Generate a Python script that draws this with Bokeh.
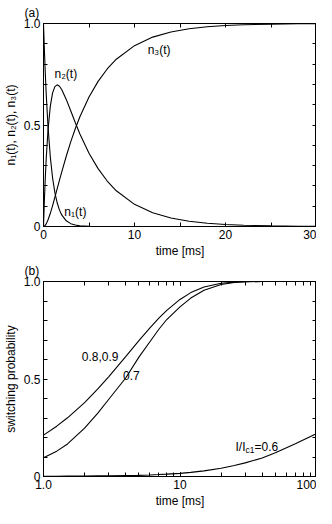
from bokeh.plotting import figure
from bokeh.layouts import column
from bokeh.models import (Range1d, FixedTicker, LinearAxis, LogAxis, LogTicker,
                          CustomJSTickFormatter, Label, Title)
from bokeh.embed import file_html
from bokeh.resources import INLINE

FONT = "Liberation Sans"
FS = "12px"

# ---------------- data: panel (a) ----------------
t_a = [0, 0.1, 0.2, 0.3, 0.5, 0.75, 1, 1.25, 1.5, 1.75, 2, 2.5, 3, 3.5, 4, 5,
       6, 7, 8, 10, 12, 14, 16, 18, 20, 22, 25, 28, 30]
n1 = [1.0, 0.867, 0.751, 0.651, 0.489, 0.342, 0.239, 0.167, 0.117, 0.082, 0.057,
      0.028, 0.014, 0.007, 0.003, 0.001, 0.0002, 0, 0, 0, 0, 0, 0, 0, 0, 0, 0, 0, 0]
n2 = [0, 0.132, 0.243, 0.336, 0.478, 0.593, 0.658, 0.689, 0.698, 0.691, 0.675,
      0.626, 0.569, 0.511, 0.456, 0.361, 0.285, 0.224, 0.176, 0.109, 0.068, 0.042,
      0.026, 0.016, 0.010, 0.006, 0.003, 0.001, 0.001]
n3 = [0, 0.002, 0.006, 0.013, 0.033, 0.065, 0.103, 0.144, 0.185, 0.227, 0.268,
      0.346, 0.418, 0.483, 0.541, 0.638, 0.715, 0.776, 0.824, 0.891, 0.933, 0.958,
      0.974, 0.984, 0.990, 0.994, 0.997, 0.999, 0.999]

# ---------------- data: panel (b) ----------------
t_b = [1, 1.25, 1.5, 2, 2.5, 3, 4, 5, 6, 7, 8, 10, 12, 15, 20, 25, 30, 40, 50, 70, 100]
p_089 = [0.212, 0.258, 0.301, 0.379, 0.449, 0.511, 0.615, 0.697, 0.761, 0.812, 0.852,
         0.908, 0.943, 0.972, 0.991, 0.997, 0.999, 1.0, 1.0, 1.0, 1.0]
p_07 = [0.096, 0.130, 0.167, 0.248, 0.325, 0.395, 0.505, 0.612, 0.690, 0.755, 0.805,
        0.870, 0.915, 0.955, 0.985, 0.995, 0.999, 1.0, 1.0, 1.0, 1.0]
p_06 = [0.001, 0.001, 0.002, 0.002, 0.003, 0.004, 0.005, 0.006, 0.008, 0.010, 0.012,
        0.016, 0.021, 0.029, 0.042, 0.056, 0.070, 0.095, 0.122, 0.168, 0.220]

y_major = [0, 0.5, 1.0]
y_minor = [0.1, 0.2, 0.3, 0.4, 0.6, 0.7, 0.8, 0.9]
xa_major = [0, 10, 20, 30]
xa_minor = [5, 15, 25]

FMT_CODE = "return tick == 1 ? '1.0' : tick.toString();"


def style_axis(ax, labels=True):
    ax.axis_line_color = "black"
    ax.major_tick_line_color = "black"
    ax.minor_tick_line_color = "black"
    ax.major_tick_in = 4
    ax.major_tick_out = 0
    ax.minor_tick_in = 4
    ax.minor_tick_out = 0
    ax.major_label_text_font = FONT
    ax.axis_label_text_font = FONT
    ax.axis_label_text_font_style = "normal"
    ax.axis_label_text_font_size = FS
    ax.major_label_text_color = "black"
    ax.axis_label_text_color = "black"
    if labels:
        ax.major_label_text_font_size = FS
        ax.major_label_standoff = 3
        ax.axis_label_standoff = 3
    else:
        ax.formatter = CustomJSTickFormatter(code="return '';")
        ax.major_label_text_font_size = "1px"
        ax.major_label_standoff = 0
        ax.axis_label_standoff = 0


def base_fig(title, height, **kw):
    p = figure(width=316, height=height, output_backend="svg", toolbar_location=None,
               title=title, min_border_left=0, min_border_right=0, min_border_top=0,
               min_border_bottom=0, **kw)
    p.title.align = "left"
    p.title.text_font = FONT
    p.title.text_font_style = "normal"
    p.title.text_font_size = FS
    p.title.text_color = "black"
    p.title.offset = -19
    p.title.standoff = 7
    p.xgrid.visible = False
    p.ygrid.visible = False
    p.outline_line_color = "black"
    p.outline_line_width = 1
    p.background_fill_color = "white"
    p.border_fill_color = "white"
    return p


def add_xtitle(p, text):
    p.add_layout(Title(text=text, align="center", text_font=FONT, text_font_size=FS,
                       text_font_style="normal", text_color="black", standoff=1,
                       offset=0), "below")


def add_label(p, x, y, text, align="center", size=FS, xo=0, yo=0):
    p.add_layout(Label(x=x, y=y, text=text, text_font=FONT, text_font_size=size,
                       text_align=align, text_baseline="middle", text_color="black",
                       x_offset=xo, y_offset=yo))


# ---------------- panel (a) ----------------
pa = base_fig("(a)", 258, x_range=Range1d(0, 30), y_range=Range1d(0, 1.0))
pa.line(t_a, n1, line_color="black", line_width=1.1)
pa.line(t_a, n2, line_color="black", line_width=1.1)
pa.line(t_a, n3, line_color="black", line_width=1.1)

pa.xaxis.ticker = FixedTicker(ticks=xa_major, minor_ticks=xa_minor)
pa.yaxis.ticker = FixedTicker(ticks=y_major, minor_ticks=y_minor)
pa.yaxis.formatter = CustomJSTickFormatter(code=FMT_CODE)
pa.yaxis.axis_label = "n\u2081(t), n\u2082(t), n\u2083(t)"
for ax in pa.xaxis + pa.yaxis:
    style_axis(ax)
add_xtitle(pa, "time [ms]")
ra = LinearAxis(ticker=FixedTicker(ticks=y_major, minor_ticks=y_minor))
style_axis(ra, labels=False)
pa.add_layout(ra, "right")
ta = LinearAxis(ticker=FixedTicker(ticks=xa_major, minor_ticks=xa_minor))
style_axis(ta, labels=False)
pa.add_layout(ta, "above")

add_label(pa, 12.7, 0.867, "n\u2083(t)")
add_label(pa, 2.45, 0.749, "n\u2082(t)")
add_label(pa, 3.5, 0.069, "n\u2081(t)")

# ---------------- panel (b) ----------------
pb = base_fig("(b)", 250, x_axis_type="log", x_range=Range1d(1, 100), y_range=Range1d(0, 1.0))
pb.line(t_b, p_089, line_color="black", line_width=1.1)
pb.line(t_b, p_07, line_color="black", line_width=1.1)
pb.line(t_b, p_06, line_color="black", line_width=1.1)

pb.xaxis.ticker = LogTicker(num_minor_ticks=10)
pb.xaxis.formatter = CustomJSTickFormatter(code=FMT_CODE)
pb.yaxis.ticker = FixedTicker(ticks=y_major, minor_ticks=y_minor)
pb.yaxis.formatter = CustomJSTickFormatter(code=FMT_CODE)
pb.yaxis.axis_label = "switching probability"
for ax in pb.xaxis + pb.yaxis:
    style_axis(ax)
add_xtitle(pb, "time [ms]")
rb = LinearAxis(ticker=FixedTicker(ticks=y_major, minor_ticks=y_minor))
style_axis(rb, labels=False)
pb.add_layout(rb, "right")
tb = LogAxis(ticker=LogTicker(num_minor_ticks=10))
style_axis(tb, labels=False)
pb.add_layout(tb, "above")

add_label(pb, 2.6, 0.613, "0.8,0.9")
add_label(pb, 4.4, 0.52, "0.7")
add_label(pb, 25.5, 0.15, "I/I", align="left")
add_label(pb, 25.5, 0.15, "c1", align="left", size="8.5px", xo=10.0, yo=-3)
add_label(pb, 25.5, 0.15, "=0.6", align="left", xo=19.0)

layout = column(pa, pb)
open("out.html", "w").write(file_html(layout, INLINE))
